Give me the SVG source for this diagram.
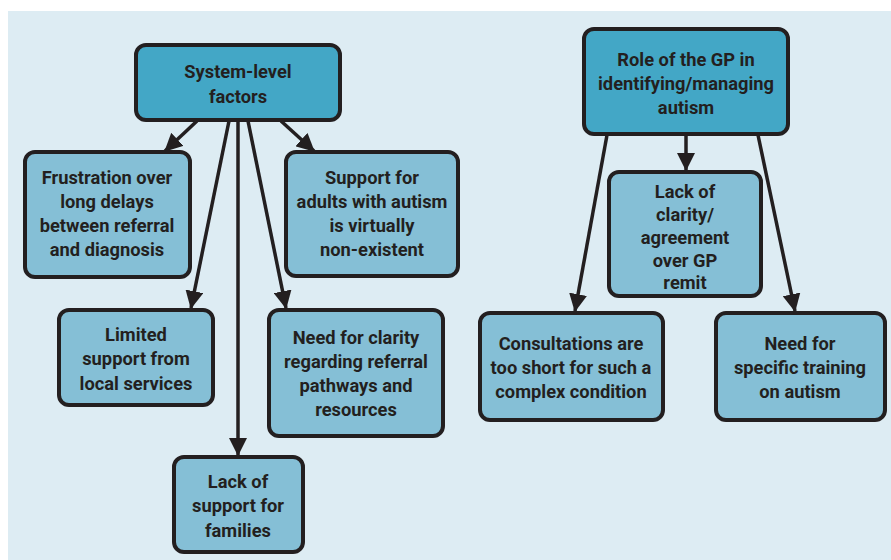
<svg xmlns="http://www.w3.org/2000/svg" width="891" height="560" viewBox="0 0 891 560">
  <style>
    .head { fill: #43a7c6; stroke: #231f20; stroke-width: 4; }
    .item { fill: #85bfd6; stroke: #231f20; stroke-width: 4; }
    text { font-family: "Roboto", "DejaVu Sans Condensed", sans-serif; font-weight: bold; font-size: 18.3px; fill: #231f20; text-anchor: middle; }
    .link { stroke: #231f20; stroke-width: 3.5; fill: none; marker-end: url(#arrow); }
  </style>
  <defs>
    <marker id="arrow" markerUnits="userSpaceOnUse" markerWidth="18" markerHeight="18" viewBox="0 0 18 18" refX="17" refY="9" orient="auto">
      <path d="M0,0 L18,9 L0,18 Z" fill="#231f20"/>
    </marker>
  </defs>

  <rect x="0" y="0" width="891" height="560" fill="#ffffff"/>
  <rect x="8" y="11" width="883" height="549" fill="#ddecf3"/>

  <g id="connectors">
    <line class="link" x1="197" y1="121" x2="165" y2="151"/>
    <line class="link" x1="229" y1="121" x2="191" y2="308"/>
    <line class="link" x1="238" y1="121" x2="238" y2="455"/>
    <line class="link" x1="248" y1="121" x2="286" y2="308"/>
    <line class="link" x1="281" y1="121" x2="314" y2="151"/>
    <line class="link" x1="607" y1="135" x2="575" y2="311"/>
    <line class="link" x1="686" y1="135" x2="686" y2="170"/>
    <line class="link" x1="758" y1="135" x2="795" y2="311"/>
  </g>

  <g id="system-level">
    <rect class="head" x="136" y="45" width="204" height="75" rx="10"/>
    <text x="238" y="78">System-level</text>
    <text x="238" y="103">factors</text>
  </g>

  <g id="gp-role">
    <rect class="head" x="584" y="29" width="204" height="105" rx="10"/>
    <text x="686" y="66">Role of the GP in</text>
    <text x="686" y="90">identifying/managing</text>
    <text x="686" y="114">autism</text>
  </g>

  <g id="frustration">
    <rect class="item" x="25" y="152" width="165" height="125" rx="10"/>
    <text x="107" y="184">Frustration over</text>
    <text x="107" y="208">long delays</text>
    <text x="107" y="232">between referral</text>
    <text x="107" y="256">and diagnosis</text>
  </g>

  <g id="adult-support">
    <rect class="item" x="286" y="152" width="172" height="124" rx="10"/>
    <text x="372" y="184">Support for</text>
    <text x="372" y="208">adults with autism</text>
    <text x="372" y="232">is virtually</text>
    <text x="372" y="256">non-existent</text>
  </g>

  <g id="limited-support">
    <rect class="item" x="59" y="310" width="154" height="95" rx="10"/>
    <text x="136" y="341">Limited</text>
    <text x="136" y="365">support from</text>
    <text x="136" y="390">local services</text>
  </g>

  <g id="referral-clarity">
    <rect class="item" x="269" y="310" width="174" height="126" rx="10"/>
    <text x="356" y="344">Need for clarity</text>
    <text x="356" y="368">regarding referral</text>
    <text x="356" y="392">pathways and</text>
    <text x="356" y="416">resources</text>
  </g>

  <g id="family-support">
    <rect class="item" x="174" y="457" width="129" height="95" rx="10"/>
    <text x="238" y="488">Lack of</text>
    <text x="238" y="512">support for</text>
    <text x="238" y="537">families</text>
  </g>

  <g id="gp-remit">
    <rect class="item" x="609" y="172" width="152" height="124" rx="10"/>
    <text x="685" y="198">Lack of</text>
    <text x="685" y="221">clarity/</text>
    <text x="685" y="244">agreement</text>
    <text x="685" y="267">over GP</text>
    <text x="685" y="289">remit</text>
  </g>

  <g id="consultations">
    <rect class="item" x="480" y="313" width="183" height="107" rx="10"/>
    <text x="571" y="350">Consultations are</text>
    <text x="571" y="374">too short for such a</text>
    <text x="571" y="398">complex condition</text>
  </g>

  <g id="training">
    <rect class="item" x="716" y="313" width="169" height="107" rx="10"/>
    <text x="800" y="350">Need for</text>
    <text x="800" y="374">specific training</text>
    <text x="800" y="398">on autism</text>
  </g>
</svg>
